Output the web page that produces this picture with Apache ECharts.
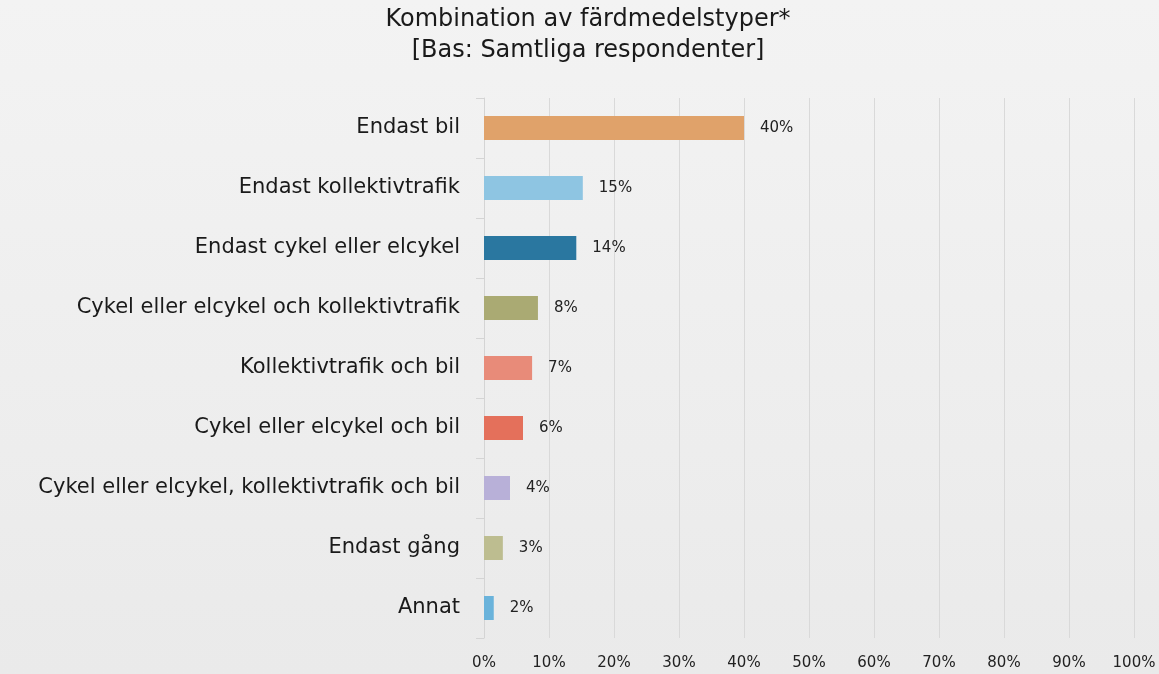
<!DOCTYPE html>
<html>
<head>
<meta charset="utf-8">
<script src="https://cdn.jsdelivr.net/npm/echarts@6/dist/echarts.min.js"></script>
<style>
  html, body { margin: 0; padding: 0; }
  #main { width: 1159px; height: 674px; }
</style>
</head>
<body>
<div id="main"></div>
<script>
'use strict'

// categories, top to bottom
const categories = [
  'Endast bil',
  'Endast kollektivtrafik',
  'Endast cykel eller elcykel',
  'Cykel eller elcykel och kollektivtrafik',
  'Kollektivtrafik och bil',
  'Cykel eller elcykel och bil',
  'Cykel eller elcykel, kollektivtrafik och bil',
  'Endast gång',
  'Annat'
];
// share in percent
const shares = [40.0, 15.2, 14.2, 8.3, 7.4, 6.0, 4.0, 2.9, 1.5];
const labels = ['40%', '15%', '14%', '8%', '7%', '6%', '4%', '3%', '2%'];
const barColors = ['#E0A26A', '#8EC5E2', '#2A77A0', '#AAAA73', '#E88B79',
                   '#E4705B', '#B8B0D8', '#BDBD90', '#6AB3DB'];
const xTicks = [0, 10, 20, 30, 40, 50, 60, 70, 80, 90, 100];

const FONT = '"DejaVu Sans", sans-serif';

var myChart = echarts.init(document.getElementById('main'));

var option = {
  backgroundColor: {
    type: 'linear', x: 0, y: 0, x2: 0, y2: 1,
    colorStops: [{ offset: 0, color: '#F3F3F3' }, { offset: 1, color: '#EAEAEA' }]
  },
  title: {
    text: 'Kombination av färdmedelstyper*\n[Bas: Samtliga respondenter]',
    left: 588,
    textAlign: 'center',
    top: 4,
    padding: 0,
    textStyle: {
      fontFamily: FONT,
      fontSize: 24,
      fontWeight: 'normal',
      color: '#1A1A1A',
      lineHeight: 31
    }
  },
  grid: { left: 484, right: 25, top: 98, bottom: 36 },
  xAxis: {
    type: 'value',
    min: xTicks[0],
    max: xTicks[xTicks.length - 1],
    interval: 10,
    axisLine: { show: false },
    axisTick: { show: false },
    splitLine: { lineStyle: { color: '#D9D9D9', width: 1 } },
    axisLabel: {
      margin: 18,
      fontFamily: FONT,
      fontSize: 15,
      color: '#222',
      formatter: v => v + '%'
    }
  },
  yAxis: {
    type: 'category',
    inverse: true,
    data: categories,
    axisLine: { lineStyle: { color: '#D4D4D4' } },
    axisTick: { show: true, length: 8, lineStyle: { color: '#D4D4D4' } },
    axisLabel: {
      margin: 24,
      fontFamily: FONT,
      fontSize: 21,
      color: '#1A1A1A'
    }
  },
  series: [{
    type: 'bar',
    barWidth: 24,
    data: shares.map((v, i) => ({ value: v, itemStyle: { color: barColors[i] } })),
    label: {
      show: true,
      position: 'right',
      distance: 16,
      fontFamily: FONT,
      fontSize: 15,
      color: '#222',
      formatter: p => labels[p.dataIndex]
    }
  }]
};

myChart.setOption(option);
</script>
</body>
</html>
